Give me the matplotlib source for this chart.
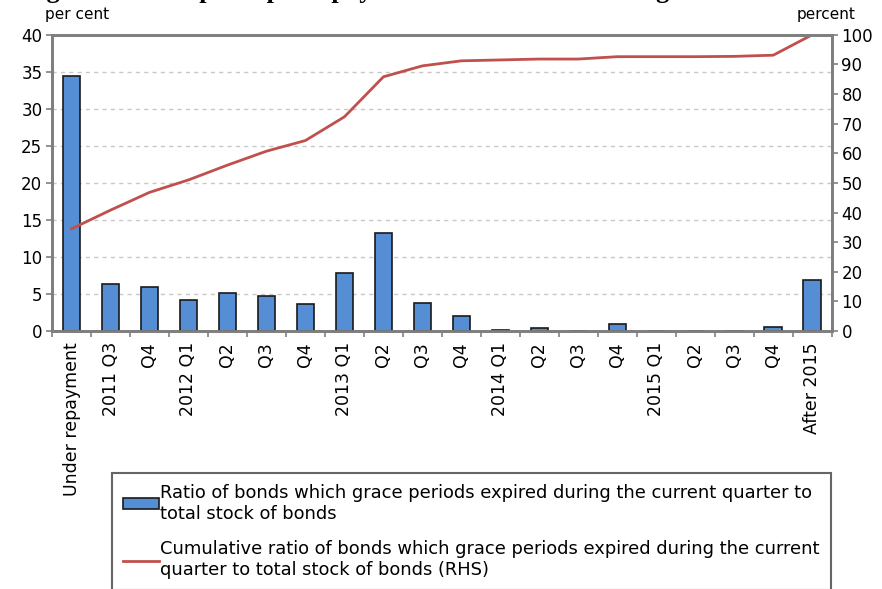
import matplotlib
matplotlib.use('Agg')
import matplotlib.pyplot as plt
import numpy as np

# categories along the x axis
cats = ['Under repayment', '2011 Q3', 'Q4', '2012 Q1', 'Q2', 'Q3', 'Q4',
        '2013 Q1', 'Q2', 'Q3', 'Q4', '2014 Q1', 'Q2', 'Q3', 'Q4',
        '2015 Q1', 'Q2', 'Q3', 'Q4', 'After 2015']

# ratio of bonds whose grace period expired in the quarter (LHS, per cent)
ratio = [34.4, 6.3, 6.0, 4.2, 5.1, 4.7, 3.6, 7.8, 13.3, 3.8, 2.0,
         0.1, 0.35, 0.0, 0.9, 0.0, 0.0, 0.0, 0.6, 6.9]

# cumulative ratio (RHS, percent)
cumul = [34.5, 40.8, 46.8, 51.0, 56.0, 60.7, 64.3, 72.3, 85.8, 89.5, 91.2,
         91.5, 91.8, 91.8, 92.6, 92.6, 92.6, 92.7, 93.1, 100.0]

lbl_bar = 'Ratio of bonds which grace periods expired during the current quarter to\ntotal stock of bonds'
lbl_line = 'Cumulative ratio of bonds which grace periods expired during the current\nquarter to total stock of bonds (RHS)'

plt.rcParams['font.family'] = ['DejaVu Sans']

fig = plt.figure(figsize=(8.82, 5.89), dpi=100)
ax = fig.add_axes([0.059, 0.438, 0.884, 0.503])
ax2 = ax.twinx()

x = np.arange(len(cats))
bars = ax.bar(x, ratio, width=0.45, color='#558ED5', edgecolor='#1a1a1a',
              linewidth=1.2, zorder=3, label=lbl_bar)
line, = ax2.plot(x, cumul, color='#C0504D', lw=2, label=lbl_line)

ax.set_xlim(-0.5, len(cats) - 0.5)
ax.set_ylim(0, 40)
ax2.set_ylim(0, 100)
ax.set_yticks(np.arange(0, 41, 5))
ax2.set_yticks(np.arange(0, 101, 10))

# dashed grid at the inner left ticks
for v in range(5, 40, 5):
    ax.axhline(v, color='#c8c8c8', lw=1, ls=(0, (3, 3)), zorder=1)

ax.set_xticks(x)
ax.set_xticklabels(cats, rotation=90, fontsize=12.5)
ax.set_xticks(np.arange(-0.5, len(cats), 1), minor=True)
ax.tick_params(axis='x', which='major', length=0, pad=8)
ax.tick_params(axis='x', which='minor', length=4, color='#808080', width=1.2)
ax.tick_params(axis='y', labelsize=12, length=4, color='#808080', width=1.2, pad=3)
ax2.tick_params(axis='y', labelsize=12, length=4, color='#808080', width=1.2, pad=3)

for a in (ax, ax2):
    for s in a.spines.values():
        s.set_color('#7f7f7f')
        s.set_linewidth(2)

fig.text(0.051, 0.962, 'per cent', fontsize=11, ha='left', va='bottom')
fig.text(0.97, 0.962, 'percent', fontsize=11, ha='right', va='bottom')

# title is cut off at the top of the image
fig.text(0.026, 1.004, 'Figure 1: Bond principal repayment after the end of the grace',
         fontsize=19, fontweight='bold', family='Liberation Serif', va='baseline')

leg = fig.legend([bars, line], [lbl_bar, lbl_line], loc='upper left',
                 bbox_to_anchor=(0.127, 0.197), borderaxespad=0, fontsize=12.9,
                 frameon=True, fancybox=False, edgecolor='#404040',
                 handlelength=2.0, handletextpad=0.1, labelspacing=1.0,
                 borderpad=0.6, handleheight=0.6)
leg.get_frame().set_linewidth(1.5)

fig.savefig('out.png', dpi=100)
